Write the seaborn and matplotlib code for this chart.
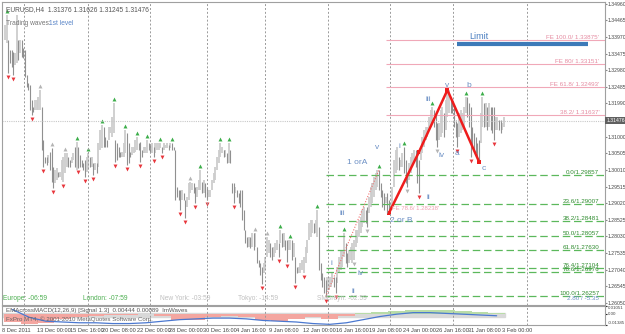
import matplotlib
matplotlib.use("Agg")
import matplotlib.pyplot as plt
import matplotlib.transforms as mtransforms
import pandas as pd
import seaborn as sns

# EURUSD H4 bars, 8 Dec 2011 - 3 Feb 2012
highs = [
    1.3433, 1.3462, 1.3388, 1.3358, 1.3358, 1.3352, 1.3349, 1.3462, 1.3388, 1.3388,
    1.3388, 1.3364, 1.3358, 1.3284, 1.3260, 1.3254, 1.3209, 1.3189, 1.3209, 1.3209,
    1.3218, 1.3239, 1.3189, 1.3090, 1.3040, 1.3040, 1.3046, 1.3055, 1.3066, 1.3010,
    1.3001, 1.3007, 1.2995, 1.2995, 1.3031, 1.3040, 1.3052, 1.3052, 1.3040, 1.3031,
    1.3040, 1.3052, 1.3069, 1.3084, 1.3069, 1.3046, 1.3031, 1.3022, 1.3031, 1.3040,
    1.3052, 1.3040, 1.3040, 1.3022, 1.3022, 1.3022, 1.3081, 1.3120, 1.3135, 1.3129,
    1.3099, 1.3090, 1.3129, 1.3129, 1.3159, 1.3200, 1.3090, 1.3081, 1.3069, 1.3055,
    1.3055, 1.3081, 1.3120, 1.3111, 1.3081, 1.3055, 1.3069, 1.3069, 1.3090, 1.3099,
    1.3081, 1.3084, 1.3060, 1.3069, 1.3069, 1.3090, 1.3081, 1.3075, 1.3081, 1.3069,
    1.3081, 1.3081, 1.3081, 1.3081, 1.3069, 1.3081, 1.3075, 1.3081, 1.3075, 1.3081,
    1.3081, 1.3069, 1.3060, 1.2950, 1.2941, 1.2941, 1.2941, 1.2932, 1.2912, 1.2921,
    1.2962, 1.2965, 1.2962, 1.2962, 1.2950, 1.2950, 1.2971, 1.3001, 1.2965, 1.2971,
    1.2962, 1.2950, 1.2941, 1.2941, 1.2971, 1.2992, 1.3010, 1.3040, 1.3060, 1.3081,
    1.3069, 1.3060, 1.3060, 1.3052, 1.3081, 1.3060, 1.2962, 1.2962, 1.2950, 1.2941,
    1.2932, 1.2941, 1.2941, 1.2882, 1.2822, 1.2802, 1.2802, 1.2802, 1.2813, 1.2813,
    1.2813, 1.2772, 1.2733, 1.2724, 1.2712, 1.2724, 1.2742, 1.2802, 1.2793, 1.2784,
    1.2772, 1.2772, 1.2784, 1.2793, 1.2784, 1.2822, 1.2813, 1.2813, 1.2793, 1.2793,
    1.2793, 1.2793, 1.2793, 1.2784, 1.2742, 1.2712, 1.2712, 1.2724, 1.2733, 1.2742,
    1.2772, 1.2793, 1.2843, 1.2852, 1.2852, 1.2843, 1.2852, 1.2882, 1.2831, 1.2724,
    1.2694, 1.2682, 1.2673, 1.2682, 1.2682, 1.2682, 1.2694, 1.2682, 1.2682, 1.2712,
    1.2742, 1.2763, 1.2763, 1.2813, 1.2784, 1.2754, 1.2763, 1.2772, 1.2784, 1.2793,
    1.2822, 1.2822, 1.2852, 1.2861, 1.2882, 1.2891, 1.2882, 1.2891, 1.2921, 1.2950,
    1.2962, 1.2980, 1.2992, 1.3001, 1.3001, 1.2962, 1.2941, 1.2932, 1.2921, 1.2932,
    1.2912, 1.2903, 1.2950, 1.3031, 1.3060, 1.3069, 1.3040, 1.3031, 1.3052, 1.3069,
    1.3031, 1.2992, 1.3022, 1.3040, 1.3052, 1.3060, 1.3060, 1.3052, 1.3031, 1.3069,
    1.3099, 1.3120, 1.3129, 1.3129, 1.3159, 1.3180, 1.3189, 1.3180, 1.3171, 1.3141,
    1.3141, 1.3180, 1.3189, 1.3171, 1.3209, 1.3239, 1.3239, 1.3218, 1.3209, 1.3189,
    1.3150, 1.3141, 1.3171, 1.3180, 1.3171, 1.3189, 1.3218, 1.3218, 1.3200, 1.3189,
    1.3129, 1.3111, 1.3099, 1.3081, 1.3090, 1.3171, 1.3218, 1.3200, 1.3200, 1.3189,
    1.3200, 1.3189, 1.3189, 1.3189, 1.3159, 1.3159, 1.3150, 1.3150, 1.3141, 1.3159,
]
lows = [
    1.3388, 1.3379, 1.3290, 1.3319, 1.3308, 1.3284, 1.3313, 1.3319, 1.3328, 1.3349,
    1.3337, 1.3334, 1.3278, 1.3248, 1.3239, 1.3180, 1.3165, 1.3174, 1.3180, 1.3180,
    1.3180, 1.3180, 1.3060, 1.3010, 1.3022, 1.3016, 1.3022, 1.3001, 1.2965, 1.2947,
    1.2962, 1.2971, 1.2980, 1.2980, 1.2971, 1.2965, 1.2992, 1.3010, 1.3010, 1.3010,
    1.3022, 1.3031, 1.3010, 1.3001, 1.3007, 1.3010, 1.3010, 1.3001, 1.2980, 1.2995,
    1.3001, 1.3010, 1.3010, 1.2986, 1.3001, 1.2992, 1.3010, 1.3060, 1.3066, 1.3069,
    1.3069, 1.3069, 1.3090, 1.3111, 1.3099, 1.3111, 1.3025, 1.3031, 1.3040, 1.3040,
    1.3040, 1.3040, 1.3052, 1.3016, 1.3022, 1.3040, 1.3046, 1.3052, 1.3055, 1.3060,
    1.3060, 1.3025, 1.3040, 1.3052, 1.3052, 1.3052, 1.3060, 1.3055, 1.3052, 1.3040,
    1.3052, 1.3060, 1.3060, 1.3066, 1.3052, 1.3060, 1.3066, 1.3066, 1.3060, 1.3066,
    1.3060, 1.3060, 1.2912, 1.2921, 1.2912, 1.2882, 1.2912, 1.2912, 1.2858, 1.2891,
    1.2912, 1.2932, 1.2941, 1.2932, 1.2903, 1.2921, 1.2941, 1.2941, 1.2932, 1.2932,
    1.2921, 1.2912, 1.2921, 1.2921, 1.2941, 1.2962, 1.2971, 1.3001, 1.3022, 1.3040,
    1.3052, 1.3040, 1.3040, 1.3022, 1.3022, 1.3022, 1.2932, 1.2903, 1.2932, 1.2921,
    1.2903, 1.2891, 1.2852, 1.2822, 1.2784, 1.2772, 1.2772, 1.2769, 1.2772, 1.2763,
    1.2772, 1.2724, 1.2712, 1.2688, 1.2662, 1.2694, 1.2703, 1.2742, 1.2754, 1.2742,
    1.2733, 1.2742, 1.2754, 1.2763, 1.2742, 1.2784, 1.2772, 1.2772, 1.2763, 1.2727,
    1.2763, 1.2763, 1.2733, 1.2742, 1.2665, 1.2694, 1.2694, 1.2694, 1.2703, 1.2694,
    1.2724, 1.2754, 1.2793, 1.2802, 1.2813, 1.2813, 1.2813, 1.2802, 1.2703, 1.2673,
    1.2653, 1.2635, 1.2623, 1.2644, 1.2644, 1.2653, 1.2665, 1.2653, 1.2635, 1.2665,
    1.2694, 1.2703, 1.2712, 1.2742, 1.2724, 1.2712, 1.2724, 1.2733, 1.2724, 1.2733,
    1.2772, 1.2784, 1.2802, 1.2813, 1.2831, 1.2843, 1.2843, 1.2831, 1.2873, 1.2891,
    1.2903, 1.2921, 1.2941, 1.2950, 1.2941, 1.2921, 1.2891, 1.2882, 1.2903, 1.2873,
    1.2873, 1.2882, 1.2903, 1.2950, 1.2992, 1.3001, 1.3001, 1.3010, 1.3010, 1.2992,
    1.2962, 1.2950, 1.2971, 1.2992, 1.3010, 1.3022, 1.3010, 1.2962, 1.2932, 1.3031,
    1.3052, 1.3069, 1.3090, 1.3099, 1.3120, 1.3129, 1.3141, 1.3129, 1.3090, 1.3069,
    1.3090, 1.3099, 1.3111, 1.3099, 1.3120, 1.3159, 1.3171, 1.3171, 1.3171, 1.3129,
    1.3099, 1.3069, 1.3099, 1.3111, 1.3120, 1.3129, 1.3171, 1.3159, 1.3129, 1.3040,
    1.3069, 1.3060, 1.3052, 1.3040, 1.3025, 1.3081, 1.3129, 1.3129, 1.3129, 1.3120,
    1.3129, 1.3120, 1.3111, 1.3090, 1.3120, 1.3120, 1.3120, 1.3111, 1.3120, 1.3129,
]

# fractal markers (bar numbers)
up_green = [1, 43, 50, 58, 65, 72, 79, 85, 93, 100, 117, 129, 134, 165, 171,
            187, 203, 224, 239, 256, 276, 286]
up_gray = [21, 28, 36, 111, 150, 157]
dn_red = [2, 5, 16, 23, 29, 35, 44, 48, 53, 66, 73, 81, 89, 94, 105, 108, 114,
          121, 137, 154, 164, 169, 174, 179, 192, 198, 248, 271, 279, 293]
dn_gray = [209, 217, 241, 259]

# wave zigzag and the "1 or A" leg
zz_bar = [230, 248, 265, 284]
zz_price = [1.2873, 1.3055, 1.3239, 1.3025]
leg_bar = [192, 224]
leg_price = [1.2623, 1.3001]

# Fibonacci retracement (green) and expansion (pink) levels
fib_names = ["0.0", "23.6", "38.2", "50.0", "61.8", "76.4", "78.6", "100.0"]
fib_levels = [1.29857, 1.29007, 1.28481, 1.28057, 1.27630, 1.27104, 1.26976, 1.26257]
fe_names = ["FE 100.0", "FE 80", "FE 61.8", "38.2"]
fe_levels = [1.33875, 1.33151, 1.32493, 1.31637]
limit_price = 1.3376
last_price = 1.31476

# price scale labels
price_ticks = [1.34960, 1.34465, 1.33970, 1.33475, 1.32980, 1.32485, 1.31990,
               1.31000, 1.30505, 1.30010, 1.29515, 1.29020, 1.28525, 1.28030,
               1.27535, 1.27040, 1.26545, 1.26050]

# time axis
date_labels = ["8 Dec 2011", "13 Dec 00:00", "15 Dec 16:00", "20 Dec 08:00",
               "22 Dec 00:00", "28 Dec 00:00", "30 Dec 16:00", "4 Jan 16:00",
               "9 Jan 08:00", "12 Jan 00:00", "16 Jan 16:00", "19 Jan 08:00",
               "24 Jan 00:00", "26 Jan 16:00", "31 Jan 08:00", "3 Feb 00:00"]
date_bars = [-1.8, 19.1, 38.8, 57.9, 78.8, 98.5, 118.8, 138.5, 158.2, 178.5,
             198.2, 217.9, 238.2, 257.9, 277.6, 297.9]
session_bars = [11.3, 49.6, 86.6, 121.2, 155.8, 193.4, 230.4, 268.1, 312.8]

# oscillator panel (one value per 10 bars)
osc_hist = [-0.010, -0.012, -0.011, -0.006, -0.004, -0.002, -0.001, -0.001, 0.000,
            -0.002, -0.007, -0.008, -0.003, -0.002, -0.003, -0.008, -0.009, -0.006,
            -0.004, -0.006, -0.002, 0.001, 0.003, 0.004, 0.005, 0.005, 0.005, 0.004,
            0.003, 0.002]
osc_line = [0.006, -0.004, -0.009, -0.010, -0.011, -0.011, -0.012, -0.012, -0.011,
            -0.009, -0.007, -0.006, -0.005, -0.005, -0.006, -0.008, -0.009, -0.010,
            -0.012, -0.013, -0.011, -0.007, -0.003, 0.000, 0.002, 0.002, 0.001,
            0.000, -0.001, -0.002]

sns.set_style("white")
plt.rcParams["font.family"] = ["Liberation Sans Narrow", "Liberation Sans", "DejaVu Sans"]

bars = pd.DataFrame({"bar": range(len(highs)), "high": highs, "low": lows})
bars["mid"] = (bars["high"] + bars["low"]) / 2
bars["up"] = bars["mid"].diff().fillna(0) >= 0

W, H = 625, 334
fig = plt.figure(figsize=(W / 100, H / 100), dpi=100)


def box(x0, y0, x1, y1):
    return [x0 / W, 1 - y1 / H, (x1 - x0) / W, (y1 - y0) / H]


ax = fig.add_axes(box(2, 2, 605, 305))
ax2 = fig.add_axes(box(2, 306, 605, 325), sharex=ax)
xmax = 359.4

# price bars
up = bars[bars["up"]]
dn = bars[~bars["up"]]
ax.vlines(up["bar"], up["low"], up["high"], colors="#cdcdcd", linewidth=1.3)
ax.vlines(dn["bar"], dn["low"], dn["high"], colors="#909090", linewidth=0.8)

# session separators
for b in session_bars:
    ax.axvline(b, color="#9a9a9a", lw=0.7, ls=(0, (2, 2)))
    ax2.axvline(b, color="#9a9a9a", lw=0.7, ls=(0, (2, 2)))

ax.axhline(last_price, color="#c8c8c8", lw=0.8, ls=(0, (1, 1)))

# expansion levels
ax.hlines(fe_levels, 228, xmax, colors="#f0a8b8", lw=0.8)
for name, lv in zip(fe_names, fe_levels):
    ax.text(356, lv, f"{name}/ {lv:.5f}'", color="#e58aa0", fontsize=4.5,
            ha="right", va="bottom")

# retracement levels
ax.hlines(fib_levels, 192, xmax, colors="#5cb85c", lw=0.9, linestyles=(0, (6, 3)))
for name, lv in zip(fib_names, fib_levels):
    ax.text(356, lv, f"{name}/{lv:.5f}", color="#2e8b2e", fontsize=4.5,
            ha="right", va="bottom")
ax.text(356, 1.26257, "2.80 / -5.35", color="#6b8fc4", fontsize=4.5, ha="right", va="top")

# limit target
ax.hlines(limit_price, 271, 349, colors="#3d7ab8", lw=3)
ax.text(283.6, 1.3397, "Limit", color="#4a7fc0", fontsize=6.5, ha="center", va="center")


def offset(dy):
    return mtransforms.offset_copy(ax.transData, fig=fig, x=0, y=dy, units="dots")


# fractals
sns.scatterplot(x=bars.loc[up_green, "bar"], y=bars.loc[up_green, "high"], ax=ax,
                marker="^", s=8, color="#3cae4a", linewidth=0, transform=offset(4))
sns.scatterplot(x=bars.loc[up_gray, "bar"], y=bars.loc[up_gray, "high"], ax=ax,
                marker="^", s=8, color="#b4b4b4", linewidth=0, transform=offset(4))
sns.scatterplot(x=bars.loc[dn_red, "bar"], y=bars.loc[dn_red, "low"], ax=ax,
                marker="v", s=8, color="#e8363c", linewidth=0, transform=offset(-4))
sns.scatterplot(x=bars.loc[dn_gray, "bar"], y=bars.loc[dn_gray, "low"], ax=ax,
                marker="v", s=8, color="#b4b4b4", linewidth=0, transform=offset(-4))

# wave structure
sns.lineplot(x=leg_bar, y=leg_price, ax=ax, color="#f07070", lw=0.8,
             linestyle=(0, (1, 1.5)))
sns.lineplot(x=zz_bar, y=zz_price, ax=ax, color="#ee1c1c", lw=1.8, sort=False)
sns.scatterplot(x=zz_bar, y=zz_price, ax=ax, marker="s", s=10, color="#ee1c1c",
                linewidth=0)

wave_text = [
    ("1 orA", 210.7, 1.3022), ("v", 222.7, 1.3069), ("iii", 201.8, 1.2870),
    ("i", 195.8, 1.2724), ("iv", 213.0, 1.2694), ("ii", 208.4, 1.2638),
    ("i", 236.4, 1.3072), ("ii", 253.7, 1.2918), ("iii", 253.7, 1.3212),
    ("iv", 261.5, 1.3043), ("v", 265.0, 1.3251), ("b", 277.6, 1.3251),
    ("a", 271.0, 1.3049), ("c", 286.6, 1.3004), ("2 or B", 237.5, 1.2852),
]
for t, xb, yp in wave_text:
    ax.text(xb, yp, t, color="#6b8fc4", fontsize=6, ha="center", va="center")
ax.text(232, 1.2886, "FE 78.6/ 1.28238'", color="#f0a0b0", fontsize=4.3, ha="left",
        va="center")

ax.set_xlim(-0.6, xmax)
ax.set_ylim(1.2599, 1.3501)
ax.set_xlabel("")
ax.set_ylabel("")
ax.yaxis.tick_right()
ax.set_yticks(price_ticks)
ax.set_yticklabels([f"{p:.5f}" for p in price_ticks])
ax.tick_params(axis="y", length=1.5, labelsize=3.7, labelcolor="#444444",
               color="#888888", pad=0.5)
ax.tick_params(axis="x", bottom=False, labelbottom=False)
ax.text(1.002, last_price, f"{last_price:.5f}", transform=ax.get_yaxis_transform(),
        fontsize=3.7, color="white", ha="left", va="center",
        bbox=dict(boxstyle="square,pad=0.15", fc="#606060", ec="none"))
for s in ax.spines.values():
    s.set_color("#a0a0a0")
    s.set_linewidth(0.8)

ax.text(0.006, 0.988, "EURUSD,H4  1.31376 1.31626 1.31245 1.31476",
        transform=ax.transAxes, fontsize=4.8, color="#555555", va="top")
ax.text(0.006, 0.94, "Trading waves:", transform=ax.transAxes, fontsize=4.8,
        color="#777777", va="top")
ax.text(0.078, 0.94, "1st level", transform=ax.transAxes, fontsize=4.8,
        color="#5b86c8", va="top")

sessions = [("Europe: -06:59", 3, "#4caf50"), ("London: -07:59", 83, "#4caf50"),
            ("New York: -03:59", 160, "#c0c0c0"), ("Tokyo: -14:59", 238, "#c0c0c0"),
            ("SMBreyn: -02:59", 317, "#c0c0c0")]
for t, px, c in sessions:
    fig.text(px / W, 1 - 299 / H, t, fontsize=4.8, color=c, va="center")

# oscillator
grp = [10 * k + 4.5 for k in range(len(osc_hist))]
colors = ["#f4a6a0" if v < 0 else "#b9dca8" for v in osc_hist]
ax2.bar(grp, osc_hist, width=10, color=colors, linewidth=0)
ax2.axhspan(-0.003, 0.002, xmin=0, xmax=300 / (xmax + 0.6), color="#d9d9d9", zorder=0)
sns.lineplot(x=grp, y=osc_line, ax=ax2, color="#4a78d0", lw=0.9)
ax2.set_ylim(-0.01385, 0.01051)
ax2.set_xlabel("")
ax2.set_ylabel("")
ax2.set_yticks([0.01051, 0.0, -0.01385])
ax2.set_yticklabels(["0.01051", "0.00", "-0.01385"])
ax2.yaxis.tick_right()
ax2.tick_params(axis="y", length=1.5, labelsize=3.2, labelcolor="#444444", pad=0.4)
for lab, va in zip(ax2.get_yticklabels(), ["top", "center", "bottom"]):
    lab.set_verticalalignment(va)
ax2.set_xticks(date_bars)
ax2.set_xticklabels(date_labels, ha="left")
ax2.tick_params(axis="x", length=1.5, labelsize=4.1, labelcolor="#444444", pad=0.5,
                color="#888888")
for s in ax2.spines.values():
    s.set_color("#a0a0a0")
    s.set_linewidth(0.8)
ax2.text(0.006, 0.88, "EMAcrossMACD(12,26,9) [Signal 1.3]  0.00444 0.00089  ImWaves",
         transform=ax2.transAxes, fontsize=4.4, color="#555555", va="top")
ax2.text(0.006, 0.32, "FxPro MT4, \u00a9 2001-2010 MetaQuotes Software Corp.",
         transform=ax2.transAxes, fontsize=4.4, color="#666666", va="center")

fig.savefig("out.png", dpi=100)
